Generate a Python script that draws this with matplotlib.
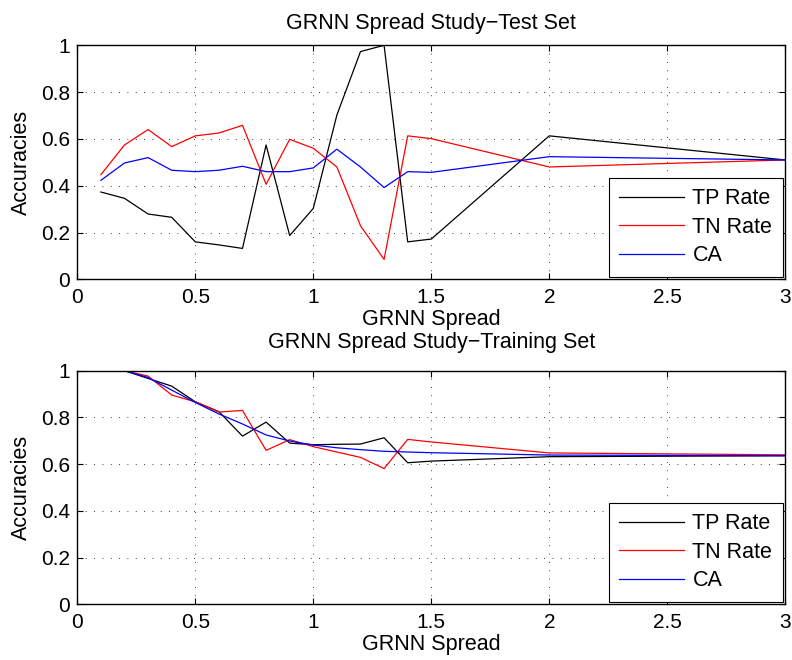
import matplotlib
matplotlib.use('Agg')
import matplotlib.pyplot as plt

plt.rcParams['font.family'] = ['Liberation Sans', 'DejaVu Sans']
plt.rcParams['font.size'] = 15.5

spread = [0.1, 0.2, 0.3, 0.4, 0.5, 0.6, 0.7, 0.8, 0.9, 1.0, 1.1, 1.2, 1.3, 1.4, 1.5, 2.0, 3.0]

# test set
tp_test = [0.373, 0.346, 0.279, 0.265, 0.160, 0.147, 0.132, 0.574, 0.187, 0.303,
           0.702, 0.973, 1.000, 0.160, 0.172, 0.613, 0.510]
tn_test = [0.447, 0.574, 0.640, 0.567, 0.613, 0.625, 0.658, 0.406, 0.598, 0.560,
           0.480, 0.229, 0.085, 0.613, 0.601, 0.480, 0.510]
ca_test = [0.423, 0.497, 0.520, 0.466, 0.460, 0.466, 0.483, 0.460, 0.460, 0.476,
           0.556, 0.480, 0.392, 0.460, 0.457, 0.524, 0.510]

# training set
tp_train = [1.000, 1.000, 0.967, 0.934, 0.867, 0.825, 0.720, 0.780, 0.690, 0.683,
            0.685, 0.686, 0.713, 0.606, 0.613, 0.632, 0.636]
tn_train = [1.000, 1.000, 0.977, 0.896, 0.867, 0.823, 0.830, 0.659, 0.705, 0.675,
            0.652, 0.629, 0.581, 0.706, 0.695, 0.648, 0.640]
ca_train = [1.000, 1.000, 0.971, 0.917, 0.864, 0.815, 0.772, 0.725, 0.699, 0.682,
            0.670, 0.662, 0.655, 0.652, 0.649, 0.639, 0.636]

xticks = [0, 0.5, 1, 1.5, 2, 2.5, 3]
xticklabels = ['0', '0.5', '1', '1.5', '2', '2.5', '3']
yticks = [0, 0.2, 0.4, 0.6, 0.8, 1]
yticklabels = ['0', '0.2', '0.4', '0.6', '0.8', '1']

fig = plt.figure(figsize=(7.92, 6.6), dpi=100)
ax1 = fig.add_axes([0.0976, 0.5768, 0.8939, 0.3546])
ax2 = fig.add_axes([0.0976, 0.0844, 0.8939, 0.3539])

panels = [
    (ax1, tp_test, tn_test, ca_test, 'GRNN Spread Study\u2212Test Set', 12),
    (ax2, tp_train, tn_train, ca_train, 'GRNN Spread Study\u2212Training Set', 16),
]

for ax, tp, tn, ca, title, tpad in panels:
    ax.plot(spread, tp, color='k', lw=0.9, label='TP Rate')
    ax.plot(spread, tn, color=(1, 0, 0), lw=0.9, label='TN Rate')
    ax.plot(spread, ca, color=(0, 0, 1), lw=0.9, label='CA')
    ax.set_xlim(0, 3)
    ax.set_ylim(0, 1)
    ax.set_xticks(xticks)
    ax.set_xticklabels(xticklabels)
    ax.set_yticks(yticks)
    ax.set_yticklabels(yticklabels)
    ax.tick_params(direction='in', top=True, right=True, length=4, width=0.8,
                   labelsize=15)
    ax.tick_params(axis='x', pad=6.5)
    ax.tick_params(axis='y', pad=5)
    ax.grid(True, color='k', linestyle=(0, (1, 9)), linewidth=0.6)
    for s in ax.spines.values():
        s.set_linewidth(1.0)
    ax.set_xlabel('GRNN Spread', labelpad=1.5)
    ax.set_ylabel('Accuracies', labelpad=6.5)
    ax.set_title(title, fontsize=15.5, pad=tpad)
    leg = ax.legend(loc='lower right', fancybox=False, framealpha=1, edgecolor='k',
                    handlelength=3.0, labelspacing=0.35, borderaxespad=0.1,
                    borderpad=0.5, handletextpad=0.4)
    leg.get_frame().set_linewidth(0.8)

fig.savefig('out.png', dpi=100)
